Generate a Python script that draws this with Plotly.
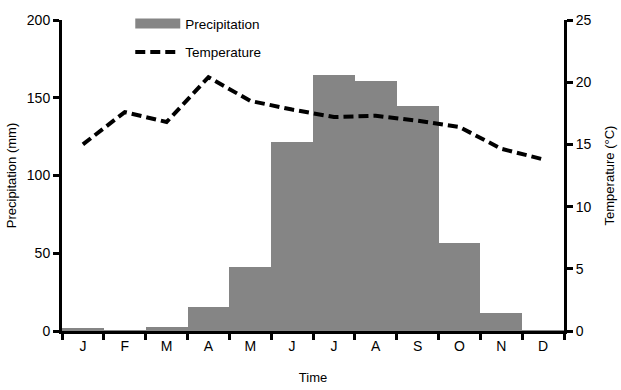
import plotly.graph_objects as go

months = ["Jan", "Feb", "Mar", "Apr", "May", "Jun", "Jul", "Aug", "Sep", "Oct", "Nov", "Dec"]
month_labels = ["J", "F", "M", "A", "M", "J", "J", "A", "S", "O", "N", "D"]
precipitation = [2.0, 0.4, 2.5, 15.6, 41.0, 121.5, 164.8, 161.0, 144.5, 56.8, 11.4, 0.4]
temperature = [15.0, 17.6, 16.8, 20.4, 18.5, 17.8, 17.2, 17.3, 16.9, 16.4, 14.65, 13.8]

font_family = "Liberation Sans, Arial, sans-serif"
bar_color = "#858585"

fig = go.Figure()
fig.add_trace(go.Bar(
    x=months, y=precipitation, name="Precipitation",
    marker=dict(color=bar_color, line=dict(width=0)),
    yaxis="y", legendgroup="p", showlegend=False,
))
# legend proxy giving the wide rectangular swatch of the reference
fig.add_trace(go.Scatter(
    x=[None], y=[None], name="Precipitation", mode="lines",
    line=dict(color=bar_color, width=10),
    yaxis="y", legendgroup="p", showlegend=True, hoverinfo="skip",
))
fig.add_trace(go.Scatter(
    x=months, y=temperature, name="Temperature", mode="lines",
    line=dict(color="black", width=4, dash="10px,5px"),
    yaxis="y2", legendgroup="t",
))

axis_common = dict(
    showgrid=False, zeroline=False, showline=True, linecolor="black", linewidth=3,
    ticks="outside", ticklen=6, tickwidth=3, tickcolor="black", automargin=False,
    tickfont=dict(family=font_family, size=14, color="black"),
)

fig.update_layout(
    width=621, height=390,
    margin=dict(l=62, r=57, t=20, b=59, autoexpand=False),
    paper_bgcolor="white", plot_bgcolor="white",
    bargap=0,
    font=dict(family=font_family, size=13, color="black"),
    xaxis=dict(
        **axis_common, type="category", tickson="boundaries",
        tickvals=months, ticktext=month_labels,
        title=dict(text="Time", font=dict(size=13, color="black"), standoff=21),
    ),
    yaxis=dict(
        **axis_common, range=[0, 200], dtick=50,
        title=dict(text="Precipitation (mm)", font=dict(size=13, color="black"), standoff=8),
    ),
    yaxis2=dict(
        **axis_common, range=[0, 25], dtick=5, overlaying="y", side="right",
        title=dict(text="Temperature (°C)", font=dict(size=13, color="black"), standoff=15),
    ),
    legend=dict(
        x=0.136, y=1.038, xanchor="left", yanchor="top",
        bgcolor="rgba(0,0,0,0)", font=dict(size=13.5, color="black"),
        tracegroupgap=8, itemwidth=45,
    ),
)

fig.write_html(
    "out.html",
    config={"displayModeBar": False},
    post_script="document.body.style.margin='0';document.body.style.padding='0';",
)
